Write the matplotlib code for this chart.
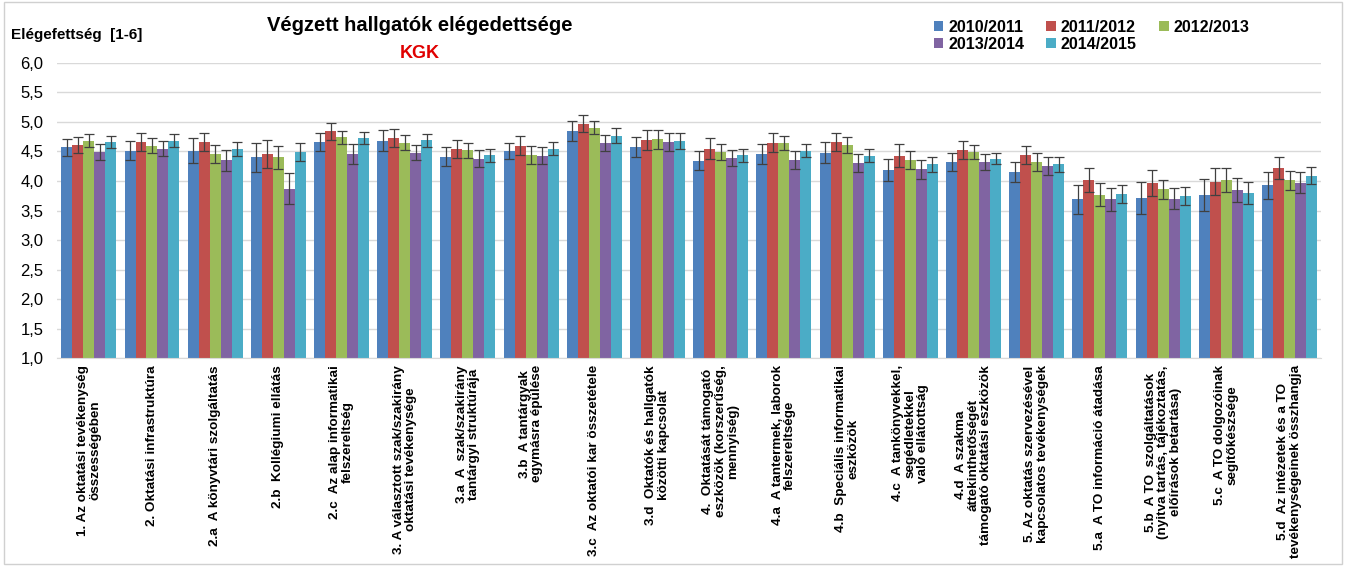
import matplotlib
matplotlib.use("Agg")
import matplotlib.pyplot as plt
import numpy as np

plt.rcParams['font.family'] = ['Liberation Sans', 'DejaVu Sans']

# Kategoriak
kategoriak = [
    "1. Az oktatási tevékenység\nösszességében",
    "2. Oktatási infrastruktúra",
    "2.a  A könyvtári szolgáltatás",
    "2.b  Kollégiumi ellátás",
    "2.c  Az alap informatikai\nfelszereltség",
    "3. A választott szak/szakirány\noktatási tevékenysége",
    "3.a  A  szak/szakirány\ntantárgyi struktúrája",
    "3.b  A tantárgyak\negymásra épülése",
    "3.c  Az oktatói kar összetétele",
    "3.d  Oktatók és hallgatók\nközötti kapcsolat",
    "4.  Oktatását támogató\neszközök (korszerűség,\nmennyiség)",
    "4.a  A tantermek, laborok\nfelszereltsége",
    "4.b  Speciális informatikai\neszközök",
    "4.c  A tankönyvekkel,\nsegédletekkel\nvaló ellátottság",
    "4.d  A szakma\náttekinthetőségét\ntámogató oktatási eszközök",
    "5. Az oktatás szervezésével\nkapcsolatos tevékenységek",
    "5.a  A TO információ átadása",
    "5.b  A TO  szolgáltatások\n(nyitva tartás, tájékoztatás,\nelőírások betartása)",
    "5.c  A TO dolgozóinak\nsegítőkészsége",
    "5.d  Az intézetek és a TO\ntevékenységeinek összhangja",
]

evek = ["2010/2011", "2011/2012", "2012/2013", "2013/2014", "2014/2015"]

# Atlagok
v_2010 = [4.57, 4.51, 4.51, 4.40, 4.66, 4.68, 4.41, 4.51, 4.84, 4.57,
          4.34, 4.46, 4.48, 4.19, 4.32, 4.16, 3.69, 3.72, 3.76, 3.93]
v_2011 = [4.61, 4.66, 4.66, 4.46, 4.84, 4.73, 4.54, 4.60, 4.97, 4.69,
          4.55, 4.65, 4.66, 4.43, 4.52, 4.44, 4.02, 3.97, 3.99, 4.22]
v_2012 = [4.68, 4.60, 4.46, 4.40, 4.74, 4.65, 4.52, 4.44, 4.90, 4.71,
          4.49, 4.64, 4.61, 4.36, 4.49, 4.32, 3.77, 3.86, 4.02, 4.01]
v_2013 = [4.49, 4.55, 4.35, 3.87, 4.46, 4.48, 4.38, 4.43, 4.64, 4.66,
          4.39, 4.35, 4.30, 4.20, 4.32, 4.26, 3.69, 3.70, 3.85, 3.97]
v_2014 = [4.66, 4.68, 4.54, 4.49, 4.73, 4.69, 4.44, 4.55, 4.77, 4.68,
          4.44, 4.51, 4.43, 4.28, 4.38, 4.28, 3.78, 3.75, 3.80, 4.09]

# Hibak (szoras)
e_2010 = [0.14, 0.16, 0.21, 0.24, 0.15, 0.18, 0.16, 0.14, 0.17, 0.17,
          0.16, 0.17, 0.18, 0.19, 0.15, 0.17, 0.24, 0.27, 0.27, 0.23]
e_2011 = [0.13, 0.15, 0.16, 0.24, 0.15, 0.15, 0.15, 0.16, 0.14, 0.17,
          0.17, 0.16, 0.16, 0.19, 0.15, 0.15, 0.20, 0.22, 0.23, 0.18]
e_2012 = [0.11, 0.12, 0.15, 0.20, 0.11, 0.13, 0.13, 0.15, 0.11, 0.16,
          0.14, 0.12, 0.14, 0.15, 0.12, 0.15, 0.19, 0.16, 0.20, 0.16]
e_2013 = [0.13, 0.12, 0.18, 0.26, 0.17, 0.13, 0.14, 0.14, 0.14, 0.15,
          0.13, 0.15, 0.15, 0.16, 0.14, 0.15, 0.19, 0.18, 0.20, 0.18]
e_2014 = [0.10, 0.11, 0.12, 0.15, 0.10, 0.11, 0.11, 0.11, 0.12, 0.13,
          0.11, 0.11, 0.11, 0.12, 0.10, 0.12, 0.15, 0.15, 0.19, 0.14]

szinek = ['#4F81BD', '#C0504D', '#9BBB59', '#8064A2', '#4BACC6']


def main():
    fig = plt.figure(figsize=(13.46, 5.66), dpi=100)
    ax = fig.add_axes([0.0425, 0.367, 0.939, 0.522])

    ertekek = [v_2010, v_2011, v_2012, v_2013, v_2014]
    hibak = [e_2010, e_2011, e_2012, e_2013, e_2014]
    x = np.arange(len(kategoriak))
    w = 0.174

    barras = []
    for k in range(len(evek)):
        pos = x + (k - 2) * w
        b = ax.bar(pos, np.array(ertekek[k]) - 1.0, w, bottom=1.0, color=szinek[k],
                   label=evek[k], zorder=2)
        barras.append(b)
        ax.errorbar(pos, ertekek[k], yerr=hibak[k], fmt='none', ecolor='#404040',
                    elinewidth=0.9, capsize=3.5, capthick=0.9, zorder=3)

    ax.set_xlim(-0.5, len(kategoriak) - 0.5)
    ax.set_ylim(1.0, 6.0)
    ticks = np.arange(1.0, 6.01, 0.5)
    ax.set_yticks(ticks)
    ax.set_yticklabels([("%.1f" % t).replace('.', ',') for t in ticks], fontsize=12)
    ax.yaxis.grid(True, color='#D9D9D9', lw=1.0, zorder=0)
    ax.set_axisbelow(True)
    for s in ['top', 'right', 'left']:
        ax.spines[s].set_visible(False)
    ax.spines['bottom'].set_color('#D9D9D9')
    ax.tick_params(axis='y', length=0, pad=10)
    ax.tick_params(axis='x', length=0, pad=5)

    ax.set_xticks(x)
    ax.set_xticklabels(kategoriak, rotation=90, fontsize=9.7, fontweight='bold',
                       ha='center', va='top', multialignment='center', linespacing=1.05)

    # Feliratok
    fig.text(0.008, 0.938, "Elégefettség  [1-6]", fontsize=11, fontweight='bold',
             ha='left', va='center')
    fig.text(0.312, 0.955, "Végzett hallgatók elégedettsége", fontsize=14.5,
             fontweight='bold', ha='center', va='center')
    fig.text(0.312, 0.905, "KGK", fontsize=13, fontweight='bold', color='#E00000',
             ha='center', va='center')

    # leyenda por filas (3 columnas)
    orden = [0, 3, 1, 4, 2]
    fig.legend([barras[i] for i in orden], [evek[i] for i in orden],
               loc='upper left', bbox_to_anchor=(0.683, 0.99), ncol=3,
               frameon=False, prop={'weight': 'bold', 'size': 11.5},
               handlelength=0.6, handleheight=0.6, handletextpad=0.3,
               columnspacing=1.4, labelspacing=0.1)

    # marco
    fig.patches.append(plt.Rectangle((0.003, 0.003), 0.994, 0.994, transform=fig.transFigure,
                                     fill=False, edgecolor='#D0D0D0', lw=1.0))

    fig.savefig("out.png", dpi=100)


if __name__ == '__main__':
    main()
